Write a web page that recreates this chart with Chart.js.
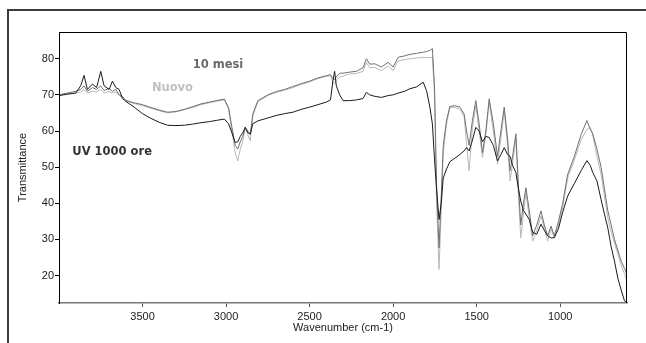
<!DOCTYPE html>
<html>
<head>
<meta charset="utf-8">
<script src="https://cdn.jsdelivr.net/npm/chart.js@4.4.0/dist/chart.umd.min.js"></script>
<style>
    html, body { margin: 0; padding: 0; background: #fff; overflow: hidden; }
    #wrap { position: relative; width: 646px; height: 343px; }
    #frame { position: absolute; left: 7px; top: 9px; width: 660px; height: 360px; border: 2px solid #3c3c3c; }
    #spectrum { position: absolute; left: 0; top: 0; }
</style>
</head>
<body>
<div id="wrap">
    <div id="frame"></div>
    <canvas id="spectrum" width="646" height="343"></canvas>
</div>
<script>
// Wavenumbers (cm-1)
const wavenumbers = [
    4000, 3950, 3900, 3870, 3850, 3830, 3800, 3775, 3750, 3730,
    3700, 3680, 3660, 3640, 3620, 3600, 3550, 3500, 3450, 3400,
    3350, 3300, 3250, 3200, 3150, 3100, 3050, 3010, 2985, 2965,
    2945, 2930, 2915, 2900, 2885, 2870, 2855, 2840, 2810, 2750,
    2700, 2650, 2600, 2550, 2500, 2450, 2400, 2375, 2360, 2350,
    2340, 2320, 2300, 2260, 2220, 2180, 2160, 2140, 2110, 2070,
    2030, 2000, 1970, 1930, 1900, 1860, 1820, 1800, 1780, 1765,
    1752, 1740, 1725, 1712, 1700, 1680, 1660, 1630, 1600, 1575,
    1560, 1545, 1525, 1505, 1485, 1465, 1445, 1425, 1400, 1375,
    1355, 1335, 1315, 1300, 1285, 1265, 1250, 1236, 1220, 1205,
    1185, 1165, 1140, 1115, 1095, 1075, 1055, 1035, 1010, 985,
    955, 915, 875, 840, 820, 805, 780, 755, 735, 715,
    695, 675, 655, 635, 615, 600
];

// Transmittance (%) for each sample
const uv1000 = [
    69.8, 70.2, 70.5, 72.5, 75.4, 71.5, 73, 72, 76.5, 72.5,
    71.5, 73.8, 72, 71.5, 69, 68.2, 66.6, 64.8, 63.5, 62.4,
    61.6, 61.5, 61.6, 61.9, 62.3, 62.6, 63, 63.3, 62, 59.5,
    56.8, 57, 58.5, 59.5, 61, 59.5, 59.2, 62, 62.8, 63.6,
    64.3, 64.8, 65.2, 66, 66.6, 67.3, 68, 68.6, 74, 76.5,
    72.5, 70, 68.4, 68.4, 68.6, 69, 70.7, 70, 69.6, 69.3,
    69.8, 70, 70.5, 71, 71.7, 72.2, 73.5, 71.2, 66.6, 62,
    52, 44, 35.5, 40, 47, 49.5, 51.5, 52.5, 53.5, 54.5,
    55.4, 54.5, 57.5, 61, 60, 57, 58.5, 58.2, 56, 51.7,
    53.5, 55.4, 53.5, 53, 50.5, 48.5, 44, 40.6, 38, 37,
    35.5, 32, 31.4, 34.2, 32.5, 31, 30.4, 30.5, 33, 37.5,
    42, 45.5, 49, 51.8, 50.5, 48.5, 46.2, 41, 37, 33.2,
    28, 24, 19.3, 16, 13, 12.6
];

const mesi10 = [
    70, 70.5, 71, 71.5, 72.5, 71, 72, 71.5, 72.5, 71.2,
    71.8, 71, 71.5, 70, 69.5, 68.5, 67.8, 67.3, 66.5, 65.8,
    65.2, 65.4, 66, 66.7, 67.5, 68, 68.5, 68.8, 66.5, 61,
    56, 55, 57, 58.5, 61, 60, 59, 64.7, 68.4, 70,
    70.9, 71.5, 72.3, 73.1, 73.8, 74.7, 75.3, 75.6, 74.5, 74.2,
    75, 76, 76, 76.3, 76.5, 77.5, 80, 78.5, 78.6, 77.7,
    79, 77.7, 80.4, 80.8, 81.2, 81.5, 81.8, 82, 82.3, 82.8,
    72, 45, 27.7, 42, 56, 63, 66.8, 67, 66.6, 64.7,
    60, 56, 63, 68.4, 62, 54, 60, 68.9, 62, 53,
    60, 66.6, 58, 49, 53, 59.2, 45, 34, 40, 44.3,
    38, 31, 34, 37.9, 34, 31, 33.7, 31, 35, 40,
    48, 53, 59, 62.9, 60.5, 59.2, 55, 50, 44, 38,
    34, 30, 27, 24, 22, 20.3
];

const nuovo = [
    70, 70.2, 70.5, 70.8, 71.5, 70.5, 71, 70.8, 71.5, 70.5,
    71, 70.5, 70.8, 69.8, 69.2, 68.3, 67.6, 67, 66.3, 65.6,
    65, 65.3, 65.9, 66.5, 67.3, 67.8, 68.3, 68.6, 66, 60,
    54, 51.7, 55, 57, 61, 59, 57.3, 64.2, 68, 69.8,
    70.7, 71.3, 72, 72.9, 73.6, 74.5, 75.1, 75.3, 73.5, 73,
    74, 74.9, 75.2, 75.8, 75.9, 76.5, 79, 77.5, 77.6, 76.7,
    78, 76.7, 79.4, 79.8, 80, 80.2, 80.4, 80.3, 80.3, 80.4,
    70, 40, 21.7, 38, 54, 62, 66.6, 66.5, 66, 64,
    56, 49, 61, 67, 60, 52.7, 59, 68, 60, 50.8,
    58, 65.5, 56, 46.2, 51, 58, 42, 30.4, 37, 43,
    36, 29.5, 32.5, 36.5, 33, 29.5, 33, 30.4, 34, 38.8,
    47, 52, 57.5, 60.5, 61, 59, 53, 48, 42, 36,
    32, 29, 26, 23, 20.5, 18.4
];

// Tick labels
const xTicks = [3500, 3000, 2500, 2000, 1500, 1000];
const yTicks = [20, 30, 40, 50, 60, 70, 80];

// Sample labels written inside the plot (wavenumber, transmittance)
const notes = [
    { text: '10 mesi', wn: 3200, t: 78.4, color: '#6a6a6a' },
    { text: 'Nuovo', wn: 3444, t: 71.9, color: '#c0c0c0' },
    { text: 'UV 1000 ore', wn: 3920, t: 54.3, color: '#333333' }
];

function toPoints(values) {
    return values.map(function(v, i) { return { x: wavenumbers[i], y: v }; });
}

document.addEventListener('DOMContentLoaded', function() {
    const tickFont = { family: 'Liberation Sans, Arial, sans-serif', size: 11 };

    // Frame round the plot area and the sample labels
    const plotDecor = {
        id: 'plotDecor',
        afterDatasetsDraw: function(chart) {
            const ctx = chart.ctx;
            const area = chart.chartArea;
            const l = Math.round(area.left) + 0.5;
            const r = Math.round(area.right) - 0.5;
            const t = Math.round(area.top) + 0.5;
            const b = Math.round(area.bottom);
            ctx.save();
            ctx.strokeStyle = '#000';
            ctx.lineWidth = 1;
            ctx.beginPath();
            ctx.moveTo(l, b);
            ctx.lineTo(l, t);
            ctx.lineTo(r, t);
            ctx.lineTo(r, b);
            ctx.stroke();
            ctx.font = 'bold 11.5px "DejaVu Sans", Verdana, sans-serif';
            ctx.textBaseline = 'middle';
            ctx.textAlign = 'left';
            notes.forEach(function(n) {
                ctx.fillStyle = n.color;
                ctx.fillText(n.text, chart.scales.x.getPixelForValue(n.wn), chart.scales.y.getPixelForValue(n.t));
            });
            ctx.restore();
        }
    };

    new Chart(document.getElementById('spectrum'), {
        type: 'line',
        data: {
            datasets: [{
                label: 'UV 1000 ore',
                data: toPoints(uv1000),
                borderColor: '#1a1a1a',
                borderWidth: 1
            }, {
                label: '10 mesi',
                data: toPoints(mesi10),
                borderColor: '#707070',
                borderWidth: 1
            }, {
                label: 'Nuovo',
                data: toPoints(nuovo),
                borderColor: '#b8b8b8',
                borderWidth: 1
            }]
        },
        options: {
            responsive: false,
            animation: false,
            layout: {
                padding: { left: 0, top: 32, right: 19, bottom: 0 }
            },
            elements: {
                point: { radius: 0 },
                line: { tension: 0 }
            },
            plugins: {
                legend: { display: false },
                tooltip: { enabled: false }
            },
            scales: {
                x: {
                    type: 'linear',
                    reverse: true,
                    min: 600,
                    max: 4000,
                    afterBuildTicks: function(scale) {
                        scale.ticks = xTicks.map(function(v) { return { value: v }; });
                    },
                    afterFit: function(scale) { scale.height = 40; },
                    grid: { drawOnChartArea: false, color: '#555', tickLength: 4 },
                    border: { color: '#777', width: 1.5 },
                    ticks: {
                        font: tickFont,
                        color: '#222',
                        padding: 3,
                        maxRotation: 0,
                        callback: function(value) { return String(value); }
                    },
                    title: {
                        display: true,
                        text: 'Wavenumber (cm-1)',
                        font: tickFont,
                        color: '#222',
                        padding: { top: 0, bottom: 8 }
                    }
                },
                y: {
                    min: 12.4,
                    max: 87.4,
                    afterBuildTicks: function(scale) {
                        scale.ticks = yTicks.map(function(v) { return { value: v }; });
                    },
                    afterFit: function(scale) { scale.width = 59; },
                    grid: { drawOnChartArea: false, color: '#000', tickLength: 4 },
                    border: { color: '#000' },
                    ticks: {
                        font: tickFont,
                        color: '#222',
                        padding: 1,
                        callback: function(value) { return String(value); }
                    },
                    title: {
                        display: true,
                        text: 'Transmittance',
                        font: tickFont,
                        color: '#222',
                        padding: { top: 16, bottom: 0 }
                    }
                }
            }
        },
        plugins: [plotDecor]
    });
});
</script>
</body>
</html>
